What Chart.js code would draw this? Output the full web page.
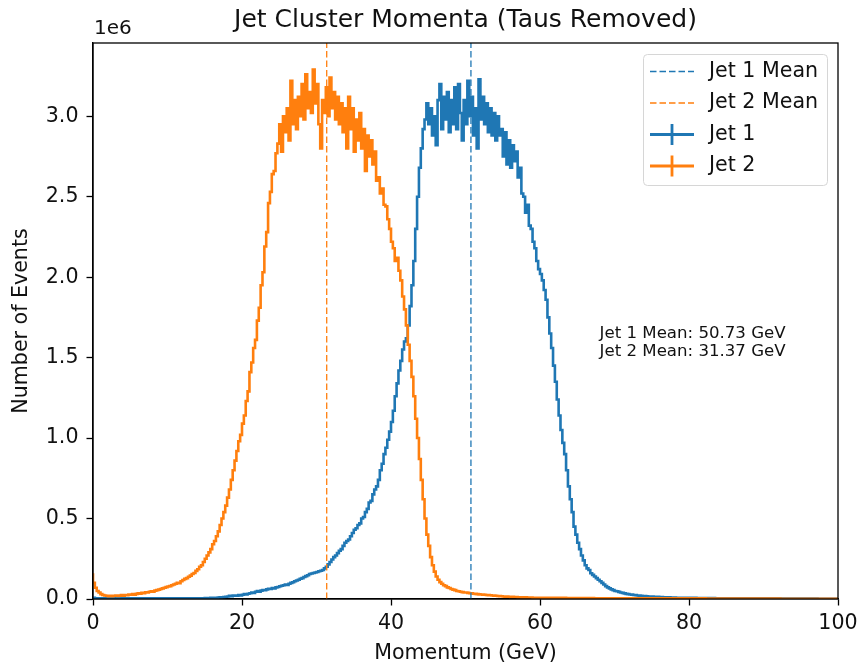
<!DOCTYPE html>
<html>
<head>
<meta charset="utf-8">
<script src="https://cdn.jsdelivr.net/npm/chart.js@4.4.1/dist/chart.umd.min.js"></script>
<style>
html,body{margin:0;padding:0;background:#fff;}
canvas{display:block;}
</style>
</head>
<body>
<canvas id="momentaChart" width="858" height="664"></canvas>
<script>
// ── Data (counts in units of 1e6 events, 0.25 GeV bins from 0 to 100, one row = 5 GeV) ──
const binWidth = 0.25;
const xTicks = [0, 20, 40, 60, 80, 100];
const yTicks = [0, 0.5, 1.0, 1.5, 2.0, 2.5, 3.0];
const jet1Mean = 50.73;
const jet2Mean = 31.37;
const seriesLabels = ['Jet 1', 'Jet 2'];
const meanLabels = ['Jet 1 Mean', 'Jet 2 Mean'];

const jet1Counts = [
  0.012,0.007,0.005,0.004,0.004,0.004,0.004,0.004,0.004,0.004,0.004,0.004,0.004,0.004,0.004,0.004,0.004,0.004,0.004,0.004,
  0.004,0.004,0.004,0.004,0.004,0.004,0.004,0.004,0.004,0.004,0.004,0.004,0.004,0.004,0.004,0.004,0.004,0.004,0.004,0.004,
  0.004,0.004,0.004,0.004,0.004,0.004,0.004,0.004,0.004,0.004,0.005,0.005,0.005,0.005,0.005,0.005,0.005,0.005,0.005,0.005,
  0.005,0.006,0.006,0.006,0.007,0.007,0.008,0.008,0.009,0.010,0.011,0.012,0.014,0.016,0.020,0.018,0.022,0.020,0.021,0.024,
  0.022,0.026,0.030,0.028,0.033,0.036,0.040,0.038,0.045,0.050,0.046,0.052,0.056,0.054,0.060,0.064,0.062,0.068,0.066,0.072,
  0.075,0.079,0.082,0.085,0.090,0.088,0.095,0.100,0.104,0.110,0.115,0.120,0.126,0.130,0.137,0.142,0.148,0.155,0.158,0.162,
  0.165,0.168,0.172,0.176,0.180,0.190,0.200,0.215,0.230,0.245,0.260,0.270,0.285,0.300,0.310,0.330,0.350,0.360,0.370,0.390,
  0.410,0.430,0.440,0.460,0.470,0.500,0.510,0.540,0.560,0.600,0.610,0.650,0.680,0.700,0.740,0.800,0.840,0.900,0.940,0.990,
  1.040,1.100,1.170,1.260,1.340,1.420,1.480,1.550,1.600,1.620,1.700,1.820,1.950,2.100,2.300,2.500,2.680,2.800,2.920,2.980,
  3.080,2.950,3.050,2.880,3.000,2.820,3.100,3.200,2.920,3.120,2.980,3.150,2.900,3.100,2.950,3.180,2.920,3.200,3.020,2.850,
  3.100,2.950,3.220,3.000,3.120,2.880,3.050,2.800,3.230,2.980,3.120,2.950,3.080,2.900,3.050,2.880,3.020,2.850,3.000,2.880,
  2.920,2.750,2.900,2.700,2.850,2.680,2.820,2.720,2.780,2.620,2.680,2.520,2.500,2.400,2.450,2.320,2.300,2.220,2.180,2.100,
  2.050,2.020,1.980,1.920,1.860,1.750,1.650,1.560,1.450,1.350,1.240,1.140,1.050,0.970,0.900,0.800,0.700,0.620,0.540,0.450,
  0.400,0.350,0.310,0.270,0.240,0.210,0.190,0.180,0.160,0.150,0.140,0.130,0.120,0.110,0.100,0.090,0.080,0.072,0.066,0.060,
  0.055,0.050,0.048,0.044,0.040,0.038,0.035,0.032,0.030,0.028,0.027,0.025,0.024,0.022,0.021,0.020,0.019,0.018,0.017,0.016,
  0.015,0.015,0.014,0.013,0.013,0.012,0.012,0.011,0.011,0.010,0.010,0.009,0.009,0.009,0.008,0.008,0.008,0.007,0.007,0.007,
  0.007,0.007,0.007,0.007,0.007,0.006,0.006,0.006,0.006,0.006,0.006,0.006,0.006,0.006,0.006,0.005,0.005,0.005,0.005,0.005,
  0.005,0.005,0.005,0.005,0.005,0.005,0.005,0.005,0.005,0.005,0.004,0.004,0.004,0.004,0.004,0.004,0.004,0.004,0.004,0.004,
  0.004,0.004,0.004,0.004,0.004,0.004,0.004,0.004,0.004,0.004,0.003,0.003,0.003,0.003,0.003,0.003,0.003,0.003,0.003,0.003,
  0.003,0.003,0.003,0.003,0.003,0.003,0.003,0.003,0.003,0.003,0.002,0.002,0.002,0.002,0.002,0.002,0.002,0.002,0.002,0.002
];

const jet2Counts = [
  0.160,0.100,0.070,0.050,0.040,0.030,0.025,0.022,0.020,0.018,0.020,0.017,0.020,0.022,0.019,0.021,0.024,0.020,0.025,0.023,
  0.028,0.026,0.030,0.027,0.032,0.035,0.033,0.038,0.036,0.042,0.040,0.045,0.048,0.046,0.052,0.055,0.058,0.062,0.066,0.070,
  0.074,0.078,0.080,0.085,0.090,0.095,0.100,0.098,0.110,0.118,0.125,0.130,0.138,0.145,0.155,0.162,0.175,0.185,0.200,0.210,
  0.230,0.250,0.270,0.290,0.310,0.340,0.360,0.390,0.420,0.460,0.500,0.540,0.580,0.630,0.680,0.740,0.800,0.860,0.920,0.980,
  1.020,1.090,1.140,1.230,1.290,1.410,1.470,1.560,1.610,1.730,1.810,1.950,2.030,2.190,2.280,2.460,2.530,2.640,2.660,2.770,
  2.830,2.950,2.780,3.000,2.900,3.050,2.850,3.220,2.950,3.100,2.920,3.120,3.000,3.200,2.980,3.260,3.050,3.150,3.020,3.290,
  3.080,3.200,2.950,2.800,3.100,3.020,3.180,3.000,3.240,3.050,3.150,2.980,3.120,2.950,3.080,2.900,3.050,2.800,3.120,2.920,
  3.050,2.780,2.980,2.850,3.020,2.800,2.920,2.660,2.880,2.750,2.850,2.700,2.780,2.600,2.620,2.520,2.550,2.450,2.440,2.360,
  2.300,2.220,2.180,2.100,2.120,2.040,1.980,1.880,1.800,1.700,1.580,1.480,1.380,1.260,1.120,1.000,0.870,0.740,0.620,0.500,
  0.400,0.330,0.260,0.210,0.170,0.140,0.120,0.105,0.095,0.085,0.080,0.072,0.068,0.062,0.058,0.055,0.050,0.048,0.045,0.043,
  0.040,0.040,0.038,0.036,0.035,0.033,0.032,0.030,0.029,0.028,0.027,0.026,0.025,0.024,0.023,0.022,0.021,0.020,0.019,0.018,
  0.017,0.016,0.015,0.015,0.014,0.013,0.013,0.012,0.012,0.011,0.011,0.010,0.010,0.010,0.009,0.009,0.009,0.008,0.008,0.008,
  0.008,0.007,0.007,0.007,0.007,0.007,0.007,0.007,0.007,0.007,0.007,0.007,0.007,0.007,0.007,0.006,0.006,0.006,0.006,0.006,
  0.006,0.006,0.006,0.006,0.006,0.006,0.006,0.006,0.006,0.006,0.005,0.005,0.005,0.005,0.005,0.005,0.005,0.005,0.005,0.005,
  0.005,0.005,0.005,0.005,0.005,0.005,0.005,0.005,0.005,0.005,0.004,0.004,0.004,0.004,0.004,0.004,0.004,0.004,0.004,0.004,
  0.004,0.004,0.004,0.004,0.004,0.004,0.004,0.004,0.004,0.004,0.004,0.004,0.004,0.004,0.004,0.004,0.004,0.004,0.004,0.004,
  0.004,0.004,0.004,0.004,0.004,0.004,0.004,0.004,0.004,0.004,0.003,0.003,0.003,0.003,0.003,0.003,0.003,0.003,0.003,0.003,
  0.003,0.003,0.003,0.003,0.003,0.003,0.003,0.003,0.003,0.003,0.003,0.003,0.003,0.003,0.003,0.003,0.003,0.003,0.003,0.003,
  0.003,0.003,0.003,0.003,0.003,0.003,0.003,0.003,0.003,0.003,0.002,0.002,0.002,0.002,0.002,0.002,0.002,0.002,0.002,0.002,
  0.002,0.002,0.002,0.002,0.002,0.002,0.002,0.002,0.002,0.002,0.002,0.002,0.002,0.002,0.002,0.002,0.002,0.002,0.002,0.002
];

const BLUE = '#1f77b4', ORANGE = '#ff7f0e', INK = '#111';
const FONT = 'DejaVu Sans';
const Y_MAX = 3.455;

// step points: left bin edges + closing edge
function toSteps(counts){
  const pts = counts.map((c,i)=>({x:i*binWidth, y:c}));
  pts.push({x:counts.length*binWidth, y:counts[counts.length-1]});
  return pts;
}
function meanLine(m){ return [{x:m,y:0},{x:m,y:Y_MAX}]; }

// ── extra drawing: frame, title, offset text, annotation, legend ──
const decorPlugin = {
  id:'decor',
  afterDraw(chart){
    const {ctx, chartArea:a, scales} = chart;
    ctx.save();
    ctx.strokeStyle = '#000'; ctx.lineWidth = 1.3;
    ctx.strokeRect(a.left, a.top, a.right-a.left, a.bottom-a.top);

    ctx.fillStyle = INK;
    ctx.textBaseline = 'middle';
    ctx.textAlign = 'center';
    ctx.font = '25px "'+FONT+'"';
    ctx.fillText('Jet Cluster Momenta (Taus Removed)', (a.left+a.right)/2, 20);
    ctx.textAlign = 'left';
    ctx.font = '20px "'+FONT+'"';
    ctx.fillText('1e6', a.left+1, 29);

    // mean annotation
    ctx.font = '16.6px "'+FONT+'"';
    const ax = scales.x.getPixelForValue(68.0);
    ctx.fillText('Jet 1 Mean: '+jet1Mean.toFixed(2)+' GeV', ax, 334);
    ctx.fillText('Jet 2 Mean: '+jet2Mean.toFixed(2)+' GeV', ax, 352);

    // legend
    const lx=643, ly=54, lw=184, lh=131;
    ctx.fillStyle='rgba(255,255,255,0.85)';
    ctx.strokeStyle='#d6d6d6'; ctx.lineWidth=1;
    ctx.beginPath(); ctx.roundRect(lx+0.5, ly+0.5, lw, lh, 4); ctx.fill(); ctx.stroke();
    const rows = [
      {label:meanLabels[0], color:BLUE, dashed:true},
      {label:meanLabels[1], color:ORANGE, dashed:true},
      {label:seriesLabels[0], color:BLUE, dashed:false},
      {label:seriesLabels[1], color:ORANGE, dashed:false}
    ];
    const rowY=[71.5, 103, 134.5, 166];
    rows.forEach((r,i)=>{
      const y=rowY[i];
      ctx.strokeStyle=r.color;
      if(r.dashed){
        ctx.lineWidth=1.3; ctx.setLineDash([6.5,3]);
        ctx.beginPath(); ctx.moveTo(650,y); ctx.lineTo(694,y); ctx.stroke();
        ctx.setLineDash([]);
      }else{
        ctx.lineWidth=2.8;
        ctx.beginPath(); ctx.moveTo(650,y); ctx.lineTo(694,y); ctx.stroke();
        ctx.beginPath(); ctx.moveTo(672,y-10.5); ctx.lineTo(672,y+10.5); ctx.stroke();
      }
      ctx.fillStyle=INK; ctx.font='20.6px "'+FONT+'"';
      ctx.fillText(r.label, 709, y);
    });
    ctx.restore();
  }
};

new Chart(document.getElementById('momentaChart'),{
  type:'line',
  data:{datasets:[
    {label:meanLabels[0], data:meanLine(jet1Mean), borderColor:BLUE, borderWidth:1.3, borderDash:[6.5,3], pointRadius:0, order:0},
    {label:meanLabels[1], data:meanLine(jet2Mean), borderColor:ORANGE, borderWidth:1.3, borderDash:[6.5,3], pointRadius:0, order:0},
    {label:seriesLabels[1], data:toSteps(jet2Counts), borderColor:ORANGE, borderWidth:2.6, stepped:'after', pointRadius:0, order:1},
    {label:seriesLabels[0], data:toSteps(jet1Counts), borderColor:BLUE, borderWidth:2.6, stepped:'after', pointRadius:0, order:2}
  ]},
  options:{
    responsive:false, animation:false, events:[],
    layout:{padding:{top:43, right:20, left:0, bottom:0}},
    plugins:{legend:{display:false}, tooltip:{enabled:false}},
    scales:{
      x:{type:'linear', min:0, max:100,
        afterFit(s){s.height=65; s.paddingLeft=0; s.paddingRight=0;},
        afterBuildTicks(s){s.ticks=xTicks.map(v=>({value:v}));},
        ticks:{color:INK, font:{family:FONT,size:20.6}, padding:6, maxRotation:0, callback:v=>String(v)},
        grid:{drawOnChartArea:false, drawTicks:true, tickLength:6.5, tickWidth:1.3, tickColor:'#000'},
        border:{display:true, color:'#000', width:1.3},
        title:{display:true, text:'Momentum (GeV)', color:INK, font:{family:FONT,size:20.6,lineHeight:1.0}, padding:{top:0,bottom:0}}
      },
      y:{type:'linear', min:0, max:Y_MAX,
        afterFit(s){s.width=93; s.paddingTop=0; s.paddingBottom=0;},
        afterBuildTicks(s){s.ticks=yTicks.map(v=>({value:v}));},
        ticks:{color:INK, font:{family:FONT,size:20.6}, padding:8, callback:v=>v.toFixed(1)},
        grid:{drawOnChartArea:false, drawTicks:true, tickLength:6.5, tickWidth:1.3, tickColor:'#000'},
        border:{display:true, color:'#000', width:1.3},
        title:{display:true, text:'Number of Events', color:INK, font:{family:FONT,size:20.6,lineHeight:1.0}, padding:{top:11,bottom:0}}
      }
    }
  },
  plugins:[decorPlugin]
});
</script>
</body>
</html>
